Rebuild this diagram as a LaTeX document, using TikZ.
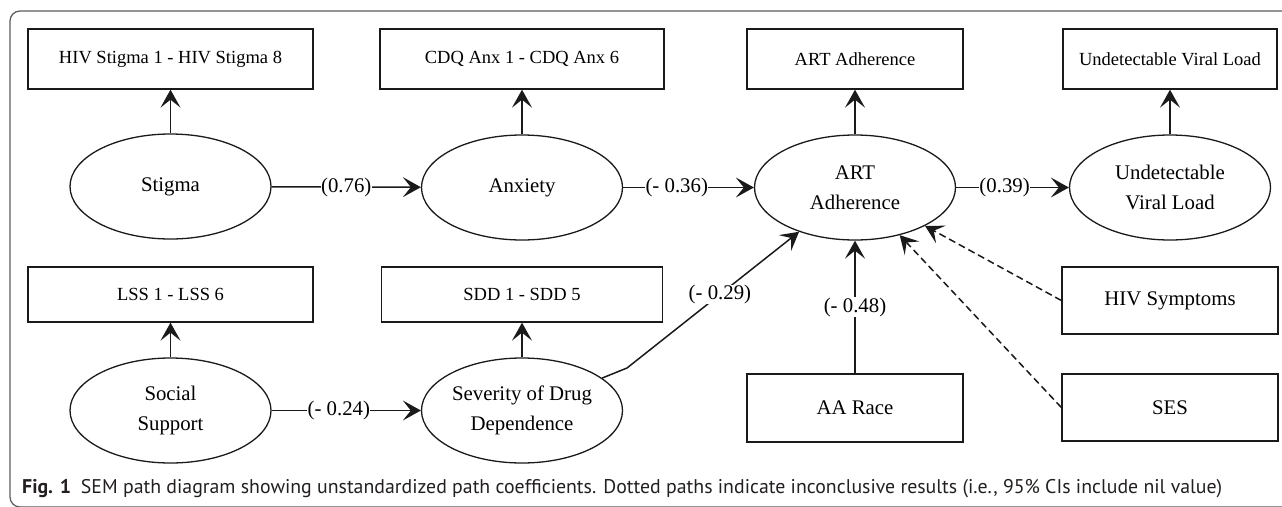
\documentclass[tikz,border=0pt]{standalone}
\usepackage{fontspec}
\setmainfont{Liberation Serif}
\newfontfamily\capfont{PT Sans}
\usetikzlibrary{shapes.geometric,arrows.meta}
\definecolor{ink}{HTML}{1A1A1A}
\definecolor{capgray}{HTML}{231F20}
\definecolor{framegray}{HTML}{5A5A5A}
\begin{document}
\begin{tikzpicture}[x=1pt,y=-1pt,
  bigfont/.style={font=\fontsize{20.8}{30}\selectfont},
  smallfont/.style={font=\fontsize{18.5}{22}\selectfont},
  lat/.style={ellipse, draw=ink, line width=1.3pt, minimum width=201pt, minimum height=105pt, inner sep=0pt, align=center, bigfont},
  ind/.style={draw=ink, line width=1.3pt, inner sep=0pt, smallfont},
  cov/.style={draw=ink, line width=1.3pt, inner sep=0pt, bigfont},
  arr/.style={draw=ink, line width=1.5pt, -{Stealth[length=18pt,width=20pt,inset=8pt]}},
  dasharr/.style={arr, dash pattern=on 7pt off 4pt},
  lbl/.style={fill=white, inner sep=0.5pt, bigfont},
]
\useasboundingbox (0,0) rectangle (1282,506);
% frame
\draw[framegray, line width=1.2pt, rounded corners=10pt] (1290,11) -- (10,11) -- (10,507) -- (1290,507);

% indicator boxes (top row)
\node[ind, minimum width=285pt, minimum height=60pt] (hivst) at (170.5,59) {HIV Stigma 1 - HIV Stigma 8};
\node[ind, minimum width=284pt, minimum height=60pt] (cdq) at (522,59) {CDQ Anx 1 - CDQ Anx 6};
\node[ind, minimum width=216pt, minimum height=60pt] (artbox) at (855,59) {ART Adherence};
\node[ind, minimum width=214pt, minimum height=60pt] (uvlbox) at (1170,59) {Undetectable Viral Load};
% indicator boxes (middle row)
\node[ind, minimum width=285pt, minimum height=55pt] (lss) at (170.5,294.5) {LSS 1 - LSS 6};
\node[ind, minimum width=281pt, minimum height=55pt] (sdd) at (522,294.5) {SDD 1 - SDD 5};

% latent variables
\node[lat] (stigma) at (170.5,186.5) {Stigma};
\node[lat] (anx) at (522,187.5) {Anxiety};
\node[lat] (art) at (855,187.5) {ART\\Adherence};
\node[lat] (uvl) at (1170,187.5) {Undetectable\\Viral Load};
\node[lat] (soc) at (170.5,410.5) {Social\\Support};
\node[lat] (sev) at (522,410.5) {Severity of Drug\\Dependence};

% covariates
\node[cov, minimum width=216pt, minimum height=68pt] (aa) at (855,408) {AA Race};
\node[cov, minimum width=216pt, minimum height=67pt] (sym) at (1170,300.5) {HIV Symptoms};
\node[cov, minimum width=216pt, minimum height=67pt] (ses) at (1170,407.5) {SES};

% measurement arrows
\draw[arr] (stigma) -- (hivst);
\draw[arr] (anx) -- (cdq);
\draw[arr] (art) -- (artbox);
\draw[arr] (uvl) -- (uvlbox);
\draw[arr] (soc) -- (lss);
\draw[arr] (sev) -- (sdd);

% structural paths
\draw[arr] (stigma) -- node[lbl, pos=0.5] {(0.76)} (anx);
\draw[arr] (anx) -- node[lbl, pos=0.41] {(- 0.36)} (art);
\draw[arr] (art) -- node[lbl, pos=0.43] {(0.39)} (uvl);
\draw[arr] (soc) -- node[lbl, pos=0.45] {(- 0.24)} (sev);
\coordinate (kink) at (627,368);
\draw[arr] (sev) -- (kink) -- node[lbl, pos=0.54] {(- 0.29)} (art);
\draw[arr] (aa) -- node[lbl, pos=0.5] {(- 0.48)} (art);
\draw[dasharr] (sym.west) -- (art);
\draw[dasharr] (ses.west) -- (art);

% caption
\node[anchor=base west, inner sep=0pt, text=capgray] (cap) at (22,493)
  {\resizebox{1200pt}{!}{\capfont\fontsize{20}{24}\selectfont\textbf{Fig. 1}\enspace SEM path diagram showing unstandardized path coefficients. Dotted paths indicate inconclusive results (i.e., 95\% CIs include nil value)}};
\end{tikzpicture}
\end{document}
